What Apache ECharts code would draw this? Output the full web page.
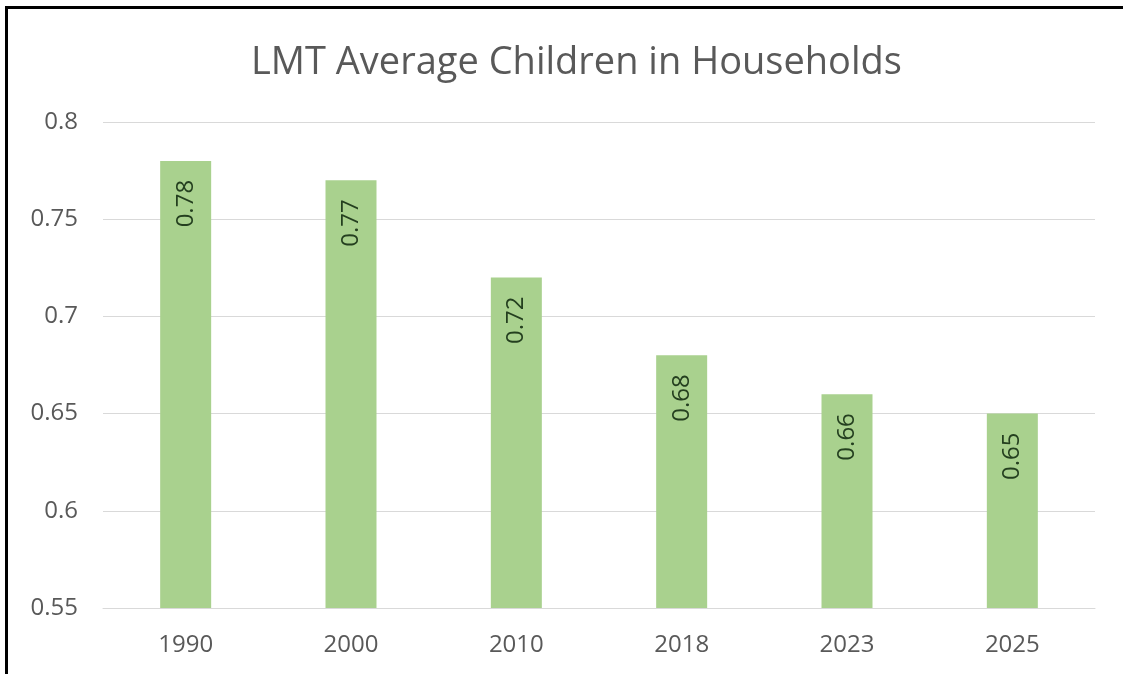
<!DOCTYPE html>
<html>
<head>
<meta charset="utf-8">
<script src="https://cdn.jsdelivr.net/npm/echarts@6/dist/echarts.min.js"></script>
<style>
html,body{margin:0;padding:0;background:#fff;}
#frame{position:absolute;left:5px;top:6px;width:1118px;height:668px;border-left:3px solid #000;border-top:3px solid #000;box-sizing:border-box;}
#chart{position:absolute;left:0;top:0;width:1123px;height:674px;}
</style>
</head>
<body>
<div id="chart"></div>
<div id="frame"></div>
<script>
const categories = ['1990', '2000', '2010', '2018', '2023', '2025'];
const values = [0.78, 0.77, 0.72, 0.68, 0.66, 0.65];
const titleText = 'LMT Average Children in Households';

const chart = echarts.init(document.getElementById('chart'));
const font = '"Open Sans", "Noto Sans", sans-serif';
chart.setOption({
  animation: false,
  backgroundColor: '#ffffff',
  title: {
    text: titleText,
    left: 246,
    top: 39,
    textStyle: { fontFamily: font, fontSize: 38, fontWeight: 'normal', color: '#595959' }
  },
  grid: { left: 103, right: 28, top: 122, bottom: 66 },
  xAxis: {
    type: 'category',
    data: categories,
    axisLine: { show: true, lineStyle: { color: '#d9d9d9', width: 1 } },
    axisTick: { show: false },
    axisLabel: { color: '#595959', fontFamily: font, fontSize: 24, margin: 25 }
  },
  yAxis: {
    type: 'value',
    min: 0.55,
    max: 0.8,
    interval: 0.05,
    axisLine: { show: false },
    axisTick: { show: false },
    splitLine: { lineStyle: { color: '#d9d9d9', width: 1 } },
    axisLabel: {
      color: '#595959', fontFamily: font, fontSize: 24, margin: 25,
      formatter: v => String(+v.toFixed(2))
    }
  },
  series: [{
    type: 'bar',
    data: values,
    barWidth: 51,
    itemStyle: { color: '#a9d18e' },
    label: {
      show: true,
      position: 'insideTop',
      rotate: 90,
      align: 'right',
      verticalAlign: 'middle',
      distance: 19,
      color: '#243f1f',
      fontFamily: font,
      fontSize: 24,
      formatter: p => p.value.toFixed(2)
    }
  }]
});
</script>
</body>
</html>
